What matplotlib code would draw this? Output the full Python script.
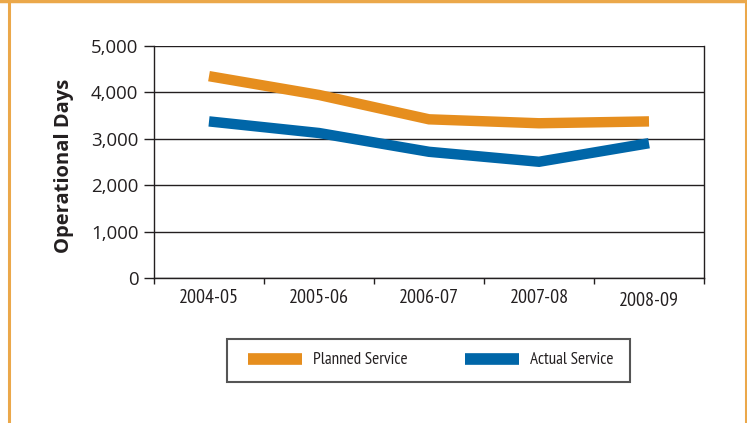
import matplotlib
matplotlib.use("Agg")
import matplotlib.pyplot as plt
from matplotlib.lines import Line2D
from matplotlib.patches import Rectangle
from matplotlib.transforms import ScaledTranslation
from matplotlib.ticker import FuncFormatter, MultipleLocator

years = ["2004-05", "2005-06", "2006-07", "2007-08", "2008-09"]
planned_service = [4350, 3945, 3420, 3335, 3375]
actual_service = [3375, 3125, 2720, 2505, 2905]

ORANGE = "#E68E1E"
BLUE = "#0066A8"
FRAME = "#EBA84A"
INK = "#231F20"
NARROW = ["PT Sans Narrow", "DejaVu Sans"]
WIDE = ["Open Sans", "DejaVu Sans"]

W, H = 747, 423
plt.rcParams["font.family"] = NARROW

fig = plt.figure(figsize=(W / 100, H / 100), dpi=100)
ax = fig.add_axes([154 / W, 1 - 278 / H, 550 / W, 232 / H])

x = range(len(years))
ax.plot(x, planned_service, color=ORANGE, linewidth=7.5, solid_capstyle="butt",
        solid_joinstyle="miter", label="Planned Service", zorder=3)
ax.plot(x, actual_service, color=BLUE, linewidth=7.5, solid_capstyle="butt",
        solid_joinstyle="miter", label="Actual Service", zorder=3)

ax.set_xlim(-0.5, len(years) - 0.5)
ax.set_ylim(0, 5000)
ax.yaxis.set_major_locator(MultipleLocator(1000))
ax.yaxis.set_major_formatter(FuncFormatter(lambda v, _: f"{int(v):,}"))
ax.grid(axis="y", color=INK, linewidth=1.0)
ax.set_axisbelow(True)

# category labels centred, tick marks on the boundaries
ax.set_xticks(list(x))
ax.set_xticklabels(years)
ax.set_xticks([i - 0.5 for i in range(len(years) + 1)], minor=True)
ax.tick_params(axis="x", which="major", length=0, pad=8, labelsize=14.5,
               labelcolor=INK)
ax.tick_params(axis="x", which="minor", length=4.5, width=1.0, color=INK)
ax.tick_params(axis="y", length=7.2, width=1.0, color=INK, labelsize=13.4, pad=4,
               labelcolor=INK)
for lab in ax.get_yticklabels():
    lab.set_family(WIDE)
# last period label sits a little lower
last = ax.get_xticklabels()[-1]
last.set_transform(last.get_transform() + ScaledTranslation(0, -2.5 / 100, fig.dpi_scale_trans))

for side in ("left", "bottom", "right"):
    ax.spines[side].set_color(INK)
    ax.spines[side].set_linewidth(1.0)
ax.spines["top"].set_visible(False)

ax.set_ylabel("Operational Days", family=["Open Sans", "DejaVu Sans"],
              fontweight="bold", fontsize=14.5, color=INK)
ax.yaxis.set_label_coords(-0.145, 0.483)

# legend box drawn separately so its padding can differ per side
fig.add_artist(Rectangle((227 / W, 1 - 382 / H), 403 / W, 43 / H, transform=fig.transFigure,
                         facecolor="white", edgecolor="#555555", linewidth=1.5))
handles = [Line2D([], [], color=ORANGE, linewidth=8.4, solid_capstyle="butt"),
           Line2D([], [], color=BLUE, linewidth=8.4, solid_capstyle="butt")]
leg = fig.legend(handles, ["Planned Service", "Actual Service"], ncol=2,
                 loc="center left", bbox_to_anchor=(248 / W, 1 - 360.5 / H),
                 fontsize=12.3, frameon=False, borderpad=0, borderaxespad=0,
                 handlelength=3.16, handletextpad=0.63, columnspacing=3.37)
for t in leg.get_texts():
    t.set_color(INK)

# orange page frame
fig.add_artist(Line2D([9 / W, 9 / W], [0, 1 - 1 / H], color=FRAME, linewidth=2.2,
                      transform=fig.transFigure))
fig.add_artist(Line2D([746 / W, 746 / W], [0, 1], color=FRAME, linewidth=2.2,
                      transform=fig.transFigure))
fig.add_artist(Line2D([0, 1], [1 - 1.2 / H, 1 - 1.2 / H], color=FRAME,
                      linewidth=2.5, transform=fig.transFigure))

fig.savefig("out.png", dpi=100)
